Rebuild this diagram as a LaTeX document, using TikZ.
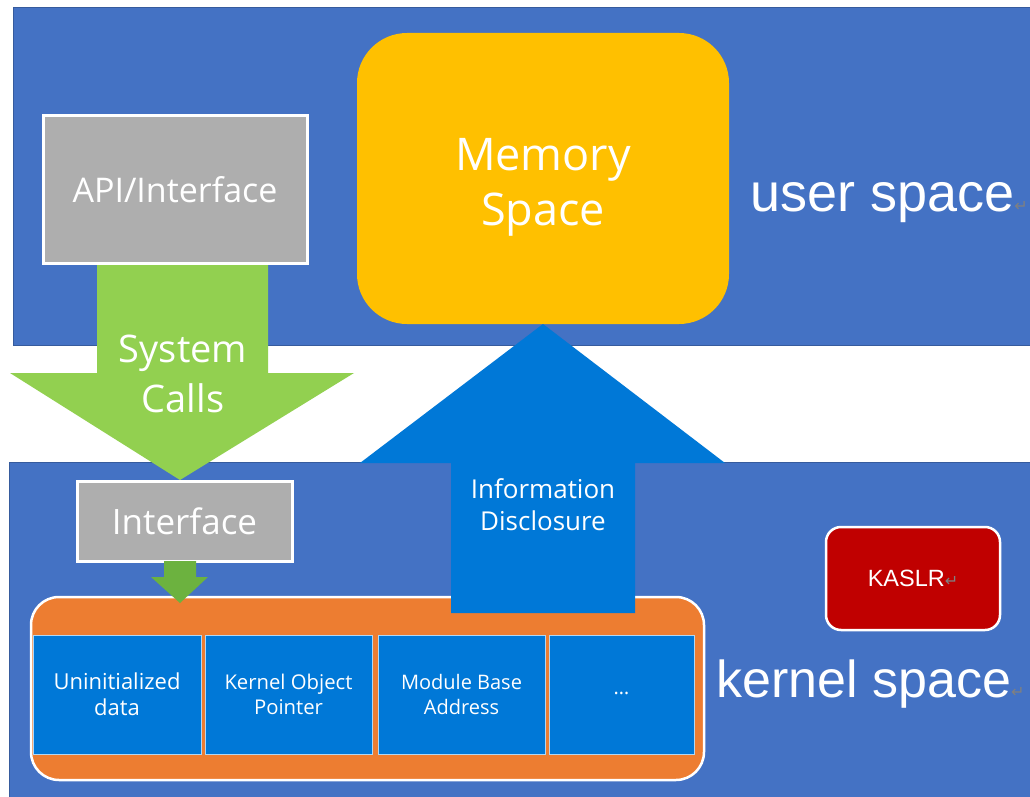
\documentclass[tikz,border=0pt]{standalone}
\usepackage{fontspec}
\setmainfont{Open Sans}
\newfontfamily\arialf{Liberation Sans}
\newfontfamily\symf{DejaVu Sans}
\definecolor{bandblue}{HTML}{4472C4}
\definecolor{memyellow}{HTML}{FFC000}
\definecolor{boxgrey}{HTML}{AEAEAE}
\definecolor{callgreen}{HTML}{92D050}
\definecolor{darkgreen}{HTML}{6CB23F}
\definecolor{infoblue}{HTML}{0078D7}
\definecolor{contorange}{HTML}{ED7D31}
\definecolor{kaslrred}{HTML}{C00000}
\definecolor{markgrey}{HTML}{808080}
\newcommand{\pmark}{{\symf\fontsize{16}{16}\selectfont\color{markgrey}↵}}
\tikzset{
  band/.style={fill=bandblue, draw=bandblue!80!black, line width=0.8pt},
  greybox/.style={fill=boxgrey, draw=white, line width=3pt, text=white, inner sep=0pt, outer sep=0pt},
  cell/.style={fill=infoblue, draw=white!70!infoblue, line width=0.8pt, text=white, inner sep=0pt, outer sep=0pt, minimum height=119pt, align=center},
  lbl/.style={text=white, align=center, inner sep=0pt},
}
\begin{document}
\begin{tikzpicture}[x=1pt,y=-1pt]
\useasboundingbox[fill=white] (0,0) rectangle (1030,797);
% bands
\path[band] (13,7) rectangle (1032,345);
\path[band] (9,462) rectangle (1032,799);
% memory space
\node[fill=memyellow, rounded corners=50pt, minimum width=372pt, minimum height=291pt, inner sep=0pt] (mem) at (543,178.5) {};
\node[lbl, font=\fontsize{45}{55}\selectfont] (memt) at (543,187) {Memory\\Space};
% user space label
\node[lbl, font=\arialf\fontsize{54}{60}\selectfont, anchor=west] (user) at (750,203) {user space\pmark};
% green system call arrow
\fill[callgreen] (97,263) -- (268,263) -- (268,373) -- (354,373) -- (180,480) -- (10,373) -- (97,373) -- cycle;
\node[lbl, font=\fontsize{38}{50}\selectfont] (sys) at (183,374) {System\\Calls};
% API box
\node[greybox, minimum width=264pt, minimum height=147pt, font=\fontsize{34}{40}\selectfont] (api) at (175,189.5) {API/Interface};
% orange container
\node[fill=contorange, draw=white, line width=2.5pt, rounded corners=28pt, minimum width=673pt, minimum height=183pt, inner sep=0pt] (cont) at (367.5,688.5) {};
% blue info arrow
\fill[infoblue] (451,613) -- (635,613) -- (635,463) -- (725,463) -- (543,324) -- (360,463) -- (451,463) -- cycle;
\node[lbl, font=\fontsize{26}{32}\selectfont] (info) at (543,505) {Information\\Disclosure};
% interface box
\node[greybox, minimum width=215pt, minimum height=80pt, font=\fontsize{35}{40}\selectfont] (iface) at (184.5,521) {Interface};
% small green arrow
\fill[darkgreen] (164,561) -- (196,561) -- (196,577) -- (208,577) -- (180,603) -- (151,577) -- (164,577) -- cycle;
% cells
\node[cell, minimum width=168pt, font=\fontsize{22}{26}\selectfont] (c1) at (117,694.5) {Uninitialized\\data};
\node[cell, minimum width=167pt, font=\fontsize{20.3}{25}\selectfont] (c2) at (288.5,694.5) {Kernel Object\\Pointer};
\node[cell, minimum width=167pt, font=\fontsize{20}{25}\selectfont] (c3) at (461.5,694.5) {Module Base\\Address};
\node[cell, minimum width=145pt, font=\fontsize{20}{25}\selectfont] (c4) at (621.5,694.5) {\raisebox{3pt}{…}};
% KASLR
\node[fill=kaslrred, draw=white, line width=2.5pt, rounded corners=15pt, minimum width=174pt, minimum height=103pt, inner sep=0pt, text=white, font=\arialf\fontsize{23.5}{28}\selectfont] (kaslr) at (913,578.5) {KASLR\pmark};
% kernel space label
\node[lbl, font=\arialf\fontsize{52}{60}\selectfont, anchor=west] (kern) at (716,684) {kernel space\pmark};
\end{tikzpicture}
\end{document}
